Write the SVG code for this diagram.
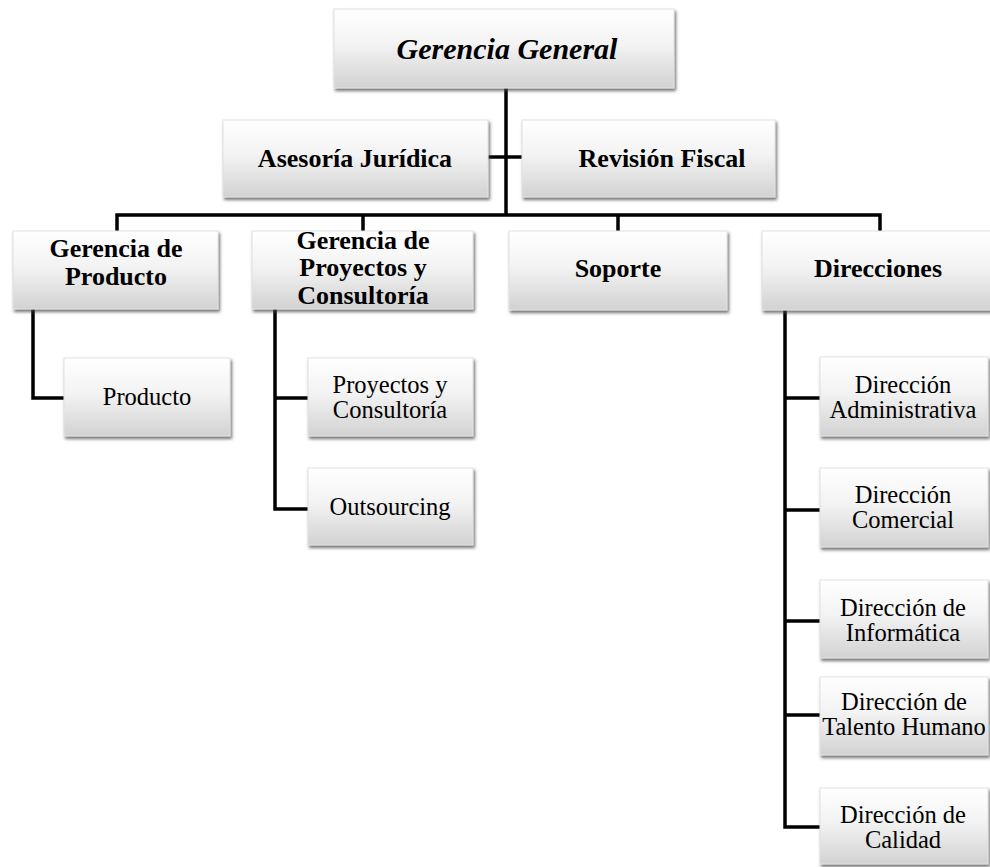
<svg xmlns="http://www.w3.org/2000/svg" width="990" height="867" viewBox="0 0 990 867">
<defs>
<linearGradient id="g" x1="0" y1="0" x2="0" y2="1">
<stop offset="0" stop-color="#ffffff"/>
<stop offset="0.45" stop-color="#f3f3f3"/>
<stop offset="1" stop-color="#d2d2d2"/>
</linearGradient>
<filter id="sh" x="-10%" y="-10%" width="125%" height="130%">
<feDropShadow dx="1.5" dy="2.5" stdDeviation="1.5" flood-color="#444" flood-opacity="0.75"/>
</filter>
</defs>
<style>
.box{fill:url(#g);stroke:#e2e2e2;stroke-width:1;filter:url(#sh)}
text{font-family:'Liberation Serif','Times New Roman',Times,serif;text-anchor:middle;fill:#000}
.b{font-weight:bold;font-size:26px}
.r{font-size:24.5px}
.gg{font-weight:bold;font-style:italic;font-size:30px}
.c{fill:none;stroke:#000;stroke-width:3.5}
</style>
<g id="connectors">
<path class="c" d="M506 88 V215"/>
<path class="c" d="M488 157 H522"/>
<path class="c" d="M117 231 V215 H880 V231"/>
<path class="c" d="M363 215 V231"/>
<path class="c" d="M618 215 V231"/>
<path class="c" d="M33 309 V398 H64"/>
<path class="c" d="M275 309 V509 H308"/>
<path class="c" d="M275 398 H308"/>
<path class="c" d="M785 310 V827 H820"/>
<path class="c" d="M785 398 H820"/>
<path class="c" d="M785 510 H820"/>
<path class="c" d="M785 621 H820"/>
<path class="c" d="M785 715 H820"/>
</g>
<g id="gerencia-general">
<rect class="box" x="334" y="9" width="340" height="79"/>
<text class="gg" x="507" y="59">Gerencia General</text>
</g>
<g id="asesoria-juridica">
<rect class="box" x="223" y="120" width="265" height="77"/>
<text class="b" x="355" y="167">Asesoría Jurídica</text>
</g>
<g id="revision-fiscal">
<rect class="box" x="522" y="120" width="253" height="77"/>
<text class="b" x="662" y="167">Revisión Fiscal</text>
</g>
<g id="gerencia-producto">
<rect class="box" x="13" y="231" width="205" height="78"/>
<text class="b" x="116" y="257">Gerencia de</text>
<text class="b" x="116" y="285">Producto</text>
</g>
<g id="gerencia-proyectos">
<rect class="box" x="252" y="231" width="221" height="78"/>
<text class="b" x="363" y="249">Gerencia de</text>
<text class="b" x="363" y="276">Proyectos y</text>
<text class="b" x="363" y="304">Consultoría</text>
</g>
<g id="soporte">
<rect class="box" x="509" y="231" width="218" height="79"/>
<text class="b" x="618" y="277">Soporte</text>
</g>
<g id="direcciones">
<rect class="box" x="762" y="231" width="232" height="79"/>
<text class="b" x="878" y="277">Direcciones</text>
</g>
<g id="producto">
<rect class="box" x="64" y="358" width="166" height="78"/>
<text class="r" x="147" y="405">Producto</text>
</g>
<g id="proyectos-consultoria">
<rect class="box" x="308" y="358" width="165" height="78"/>
<text class="r" x="390" y="393">Proyectos y</text>
<text class="r" x="390" y="418">Consultoría</text>
</g>
<g id="outsourcing">
<rect class="box" x="308" y="468" width="165" height="77"/>
<text class="r" x="390" y="515">Outsourcing</text>
</g>
<g id="direccion-administrativa">
<rect class="box" x="820" y="357" width="168" height="79"/>
<text class="r" x="903" y="393">Dirección</text>
<text class="r" x="903" y="418">Administrativa</text>
</g>
<g id="direccion-comercial">
<rect class="box" x="820" y="468" width="168" height="79"/>
<text class="r" x="903" y="503">Dirección</text>
<text class="r" x="903" y="528">Comercial</text>
</g>
<g id="direccion-informatica">
<rect class="box" x="820" y="580" width="168" height="78"/>
<text class="r" x="903" y="616">Dirección de</text>
<text class="r" x="903" y="641">Informática</text>
</g>
<g id="direccion-talento">
<rect class="box" x="820" y="677" width="168" height="78"/>
<text class="r" x="904" y="710">Dirección de</text>
<text class="r" x="904" y="735">Talento Humano</text>
</g>
<g id="direccion-calidad">
<rect class="box" x="820" y="788" width="168" height="76"/>
<text class="r" x="903" y="823">Dirección de</text>
<text class="r" x="903" y="848">Calidad</text>
</g>
</svg>
